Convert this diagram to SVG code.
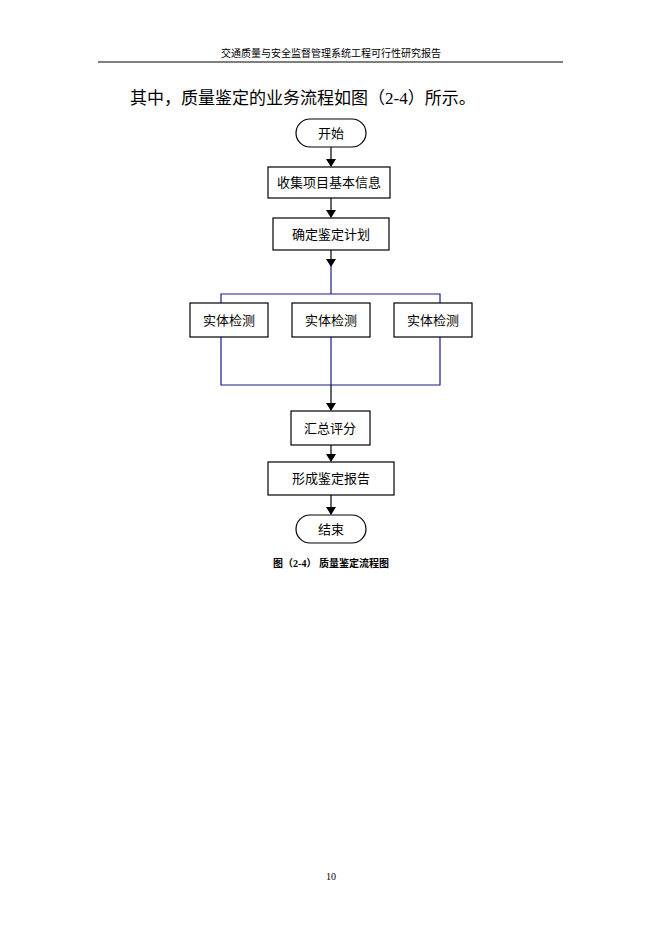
<svg xmlns="http://www.w3.org/2000/svg" width="662" height="936" viewBox="0 0 662 936">
<style>
text{font-family:"Liberation Serif","Noto Sans CJK SC",serif;fill:#000}
.n{fill:#fff;stroke:#000;stroke-width:1.2}
.t{font-size:13px;text-anchor:middle}
.b{fill:none;stroke:#1a1a8c;stroke-width:1.2}
.k{fill:none;stroke:#000;stroke-width:1.2}
</style>
<defs><marker id="a" markerWidth="8" markerHeight="10" refX="7" refY="5" orient="auto" markerUnits="userSpaceOnUse"><path d="M0,0L8,5L0,10z" fill="#000"/></marker></defs>
<rect width="662" height="936" fill="#fff"/>
<text x="331" y="57" font-size="10" text-anchor="middle">交通质量与安全监督管理系统工程可行性研究报告</text>
<line x1="98" y1="62" x2="563" y2="62" stroke="#000"/>
<text x="130" y="104" font-size="17">其中，质量鉴定的业务流程如图（2-4）所示。</text>
<g id="connectors">
<line class="k" x1="331" y1="147" x2="331" y2="166" marker-end="url(#a)"/>
<line class="k" x1="331" y1="198" x2="331" y2="217" marker-end="url(#a)"/>
<line class="k" x1="331" y1="250" x2="331" y2="266" marker-end="url(#a)"/>
<path class="b" d="M331,266V294M221,303V294H440V303M221,337V385H440V337M331,337V385"/>
<line class="k" x1="331" y1="385" x2="331" y2="410" marker-end="url(#a)"/>
<line class="k" x1="331" y1="445" x2="331" y2="461" marker-end="url(#a)"/>
<line class="k" x1="331" y1="495" x2="331" y2="514" marker-end="url(#a)"/>
</g>
<g id="start"><rect class="n" x="296" y="119" width="70" height="28" rx="14"/><text class="t" x="331" y="138">开始</text></g>
<g id="collect"><rect class="n" x="268" y="167" width="122" height="31"/><text class="t" x="329" y="187">收集项目基本信息</text></g>
<g id="plan"><rect class="n" x="273" y="218" width="116" height="32"/><text class="t" x="331" y="239">确定鉴定计划</text></g>
<g id="test1"><rect class="n" x="190" y="303" width="78" height="34"/><text class="t" x="229" y="325">实体检测</text></g>
<g id="test2"><rect class="n" x="292" y="303" width="78" height="34"/><text class="t" x="331" y="325">实体检测</text></g>
<g id="test3"><rect class="n" x="394" y="303" width="78" height="34"/><text class="t" x="433" y="325">实体检测</text></g>
<g id="sum"><rect class="n" x="291" y="411" width="79" height="34"/><text class="t" x="330" y="433">汇总评分</text></g>
<g id="report"><rect class="n" x="268" y="462" width="126" height="33"/><text class="t" x="331" y="483">形成鉴定报告</text></g>
<g id="end"><rect class="n" x="296" y="515" width="70" height="28" rx="14"/><text class="t" x="331" y="534">结束</text></g>
<text x="331" y="567" font-size="10" font-weight="bold" text-anchor="middle">图（2-4）  质量鉴定流程图</text>
<text x="331" y="880" font-size="10" text-anchor="middle">10</text>
</svg>
